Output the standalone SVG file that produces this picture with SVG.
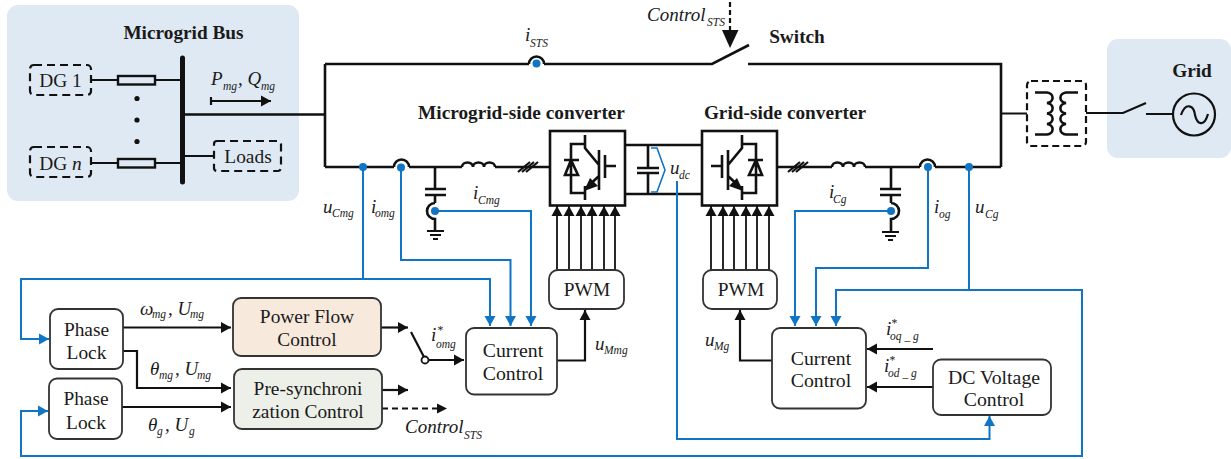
<svg xmlns="http://www.w3.org/2000/svg" xmlns:xlink="http://www.w3.org/1999/xlink" width="1231" height="459" viewBox="0 0 1231 459">
<style>
text{font-family:"Liberation Serif","Times New Roman",serif;fill:#1a1a1a}
.t{font-size:19.300px;font-weight:bold;text-anchor:middle}
.n{font-size:19.400px;text-anchor:middle}
.c{font-size:19.800px;text-anchor:middle}
.i{font-style:italic;font-size:19px}
.s{font-style:italic;font-size:11.500px}
.k,.k2,.b,.d{fill:none;stroke-linejoin:miter}
.k{stroke:#111;stroke-width:2.600}
.k2{stroke:#111;stroke-width:2.200}
.a{fill:none;stroke:#111;stroke-width:1.800}
.b{stroke:#0f75c4;stroke-width:2}
.d{stroke:#111;stroke-width:2.200;stroke-dasharray:8 5}
.box{fill:#fff;stroke:#333;stroke-width:1.800}
.hw{fill:#fff;stroke:#111;stroke-width:2.600}
.dot{fill:#0f75c4}
.kf{fill:#111}
</style>
<defs>
<marker id="ak" markerUnits="userSpaceOnUse" markerWidth="12" markerHeight="12" refX="10" refY="6" orient="auto"><path d="M0 0.5L10 6L0 11.500Z" fill="#111"/></marker>
<marker id="ab" markerUnits="userSpaceOnUse" markerWidth="12" markerHeight="12" refX="10" refY="6" orient="auto"><path d="M0 0.5L10 6L0 11.500Z" fill="#0f75c4"/></marker>
<g id="igbt">
<rect class="hw" x="550" y="131" width="75" height="74.500"/>
<path class="k" d="M585 135V148L599 165M599 150V190M605 155V178M605 166H616M585 186V200M585 144H571V193H585M564 160H579M565 175H578L571 160ZM571 175V193M599 176L585 189"/>
<path d="M584 191L590 178L598 186Z" class="kf"/>
</g>
<g id="gnd"><path class="k2" d="M0 0H17M3 4H14M6 8H11"/></g>
<g id="slash"><path class="k2" d="M0 10L12 0M4 10L16 0M8 10L20 0"/></g>
<g id="coil"><path class="k" d="M0 0a5.500 4.500 0 0 1 11 0a5.500 4.500 0 0 1 11 0a5.500 4.500 0 0 1 11 0"/></g>
</defs>

<g id="microgrid-panel"><rect x="7" y="5" width="292" height="196" rx="11" fill="#dfe9f3"/>
<text class="t" x="183.500" y="39">Microgrid Bus</text></g>
<g id="grid-panel"><rect x="1107" y="39" width="124" height="119" rx="11" fill="#dfe9f3"/>
<text class="t" x="1192" y="77">Grid</text></g>

<g id="connectors">
<path class="k" d="M184 114.500H325M325 64V167M325 64H529M529 64a7.500 7.500 0 0 1 15 0M544 64H712L749 45M748 64H1001V167M325 167H394M394 167a7.500 7.500 0 0 1 15 0M409 167H462M495 167H550M625 145H702M625 194H702M777 167H832M865 167H920M920 167a7.500 7.500 0 0 1 15 0M935 167H1001"/>
<path class="k2" d="M91 80H118M155 80H180M91 163H118M155 163H180M184 156H214M1001 113.500H1027M1086 113H1123L1146 103M1146 114H1173"/>
<path class="k2" marker-end="url(#ak)" d="M211 101H271"/>
<path class="k2" d="M211 97V105"/>
<path class="d" d="M730 2V30" style="stroke-dasharray:5 3"/>
<path d="M722 30H738.500L730 48Z" class="kf"/>
<path class="k" d="M648 145V168M648 173V194M637 168H659M637 173H659M435 167V189M425 189H446M425 195H446M435 195V203M435 203a8 8 0 0 0 0 16V231M891 167V189M880 189H901M880 195H901M891 195V203M891 203a8 8 0 0 1 0 16V231"/>
<use xlink:href="#gnd" href="#gnd" x="427" y="231"/>
<use xlink:href="#gnd" href="#gnd" x="882" y="232"/>
<use xlink:href="#slash" href="#slash" x="518" y="162"/>
<use xlink:href="#slash" href="#slash" x="788" y="162"/>
<use xlink:href="#coil" href="#coil" x="462" y="167"/>
<use xlink:href="#coil" href="#coil" x="832" y="167"/>
<path class="b" style="stroke-width:1.600" d="M651 148H657L665 170L657 192H651"/>
<path class="b" d="M363 167V279H21V339H49" marker-end="url(#ab)"/>
<path class="b" d="M363 279H490V326" marker-end="url(#ab)"/>
<path class="b" d="M401 167V260H510.500V326" marker-end="url(#ab)"/>
<path class="b" d="M435 211H531V326" marker-end="url(#ab)"/>
<path class="b" d="M677 181V439H989.500V416" marker-end="url(#ab)"/>
<path class="b" d="M891 211H795V326" marker-end="url(#ab)"/>
<path class="b" d="M928 167V268H816V326" marker-end="url(#ab)"/>
<path class="b" d="M969 167V290H836V326" marker-end="url(#ab)"/>
<path class="b" d="M969 290H1082V456H21V411H48" marker-end="url(#ab)"/>
<circle class="dot" cx="536.500" cy="63.500" r="4"/>
<circle class="dot" cx="363" cy="167" r="4"/>
<circle class="dot" cx="401" cy="167.500" r="4"/>
<circle class="dot" cx="435" cy="211" r="4"/>
<circle class="dot" cx="891" cy="211" r="4"/>
<circle class="dot" cx="928" cy="167" r="4"/>
<circle class="dot" cx="969" cy="167" r="4"/>
<g id="pwm-arrows">
<path class="a" marker-end="url(#ak)" d="M557 270V206"/><path class="a" marker-end="url(#ak)" d="M569 270V206"/><path class="a" marker-end="url(#ak)" d="M581 270V206"/><path class="a" marker-end="url(#ak)" d="M592 270V206"/><path class="a" marker-end="url(#ak)" d="M604 270V206"/><path class="a" marker-end="url(#ak)" d="M615 270V206"/>
<path class="a" marker-end="url(#ak)" d="M711 270V206"/><path class="a" marker-end="url(#ak)" d="M723 270V206"/><path class="a" marker-end="url(#ak)" d="M734 270V206"/><path class="a" marker-end="url(#ak)" d="M746 270V206"/><path class="a" marker-end="url(#ak)" d="M757 270V206"/><path class="a" marker-end="url(#ak)" d="M769 270V206"/>
</g>
<path class="k2" marker-end="url(#ak)" d="M123 327.500H231"/>
<path class="k2" marker-end="url(#ak)" d="M123 351H137V388H231"/>
<path class="k2" marker-end="url(#ak)" d="M122 407H231"/>
<path class="k2" marker-end="url(#ak)" d="M381 327.500H408"/>
<path class="k2" d="M411 332L424 357"/>
<path class="k2" marker-end="url(#ak)" d="M429 360H464"/>
<circle cx="425" cy="360" r="3.500" fill="#fff" stroke="#111" stroke-width="1.800"/>
<path class="k2" marker-end="url(#ak)" d="M382 390H408"/>
<path class="d" style="stroke-width:1.800;stroke-dasharray:6 4" d="M382 408.500H438"/>
<path class="kf" d="M437 403.500L447 408.500L437 413.500Z"/>
<path class="k2" marker-end="url(#ak)" d="M557 360.500H585V310"/>
<path class="k2" marker-end="url(#ak)" d="M772 360.500H740V310"/>
<path class="k2" marker-end="url(#ak)" d="M933 349H867"/>
<path class="k2" marker-end="url(#ak)" d="M933 387H867"/>
</g>

<g id="dg1"><rect class="d" x="30" y="65" width="61" height="30" rx="4"/><text class="n" x="60.500" y="87">DG 1</text></g>
<g id="dgn"><rect class="d" x="30" y="147" width="61" height="30" rx="4"/><text class="n" x="60.500" y="170">DG <tspan font-style="italic">n</tspan></text></g>
<g id="res1"><rect x="118" y="76" width="37" height="8.500" fill="none" stroke="#111" stroke-width="2.400"/></g>
<g id="resn"><rect x="118" y="159" width="37" height="8.500" fill="none" stroke="#111" stroke-width="2.400"/></g>
<g id="dots"><circle cx="137" cy="98.500" r="2.600" class="kf"/><circle cx="137" cy="120" r="2.600" class="kf"/><circle cx="137" cy="141.500" r="2.600" class="kf"/></g>
<g id="bus"><path d="M182.500 58V182" stroke="#111" stroke-width="5" stroke-linecap="round"/></g>
<g id="loads"><rect class="d" x="214" y="141" width="67" height="30" rx="3"/><text class="n" x="248" y="163">Loads</text></g>

<g id="conv1"><use xlink:href="#igbt" href="#igbt"/></g>
<g id="conv2"><use xlink:href="#igbt" href="#igbt" transform="translate(1327 0) scale(-1 1)"/></g>
<text class="t" x="521.500" y="119">Microgrid-side converter</text>
<text class="t" x="785" y="119">Grid-side converter</text>
<text class="t" x="797" y="43">Switch</text>

<g id="transformer"><rect class="d" style="stroke-dasharray:7 4" x="1027" y="81" width="59" height="65" rx="4"/>
<path class="k" d="M1035 92.500H1047a6.500 5.300 0 0 1 0 10.500a6.500 5.300 0 0 1 0 10.500a6.500 5.300 0 0 1 0 10.500a6.500 5.300 0 0 1 0 10.500H1035M1078 92.500H1066a6.500 5.300 0 0 0 0 10.500a6.500 5.300 0 0 0 0 10.500a6.500 5.300 0 0 0 0 10.500a6.500 5.300 0 0 0 0 10.500H1078"/></g>
<g id="source"><circle cx="1194" cy="114.500" r="21" fill="none" stroke="#111" stroke-width="2.200"/><path class="k2" d="M1181 115C1186 101 1194 106 1195 115C1197 124 1204 128 1208 114"/></g>

<g id="pwm1"><rect class="box" x="549" y="270" width="75" height="39" rx="9"/><text class="n" x="587" y="296">PWM</text></g>
<g id="pwm2"><rect class="box" x="703" y="270" width="74" height="39" rx="9"/><text class="n" x="741" y="296">PWM</text></g>
<g id="pll1"><rect class="box" x="50" y="309" width="73" height="60" rx="8"/><text class="n" x="86.500" y="336">Phase</text><text class="n" x="86.500" y="359">Lock</text></g>
<g id="pll2"><rect class="box" x="49" y="378.500" width="73" height="60.500" rx="8"/><text class="n" x="86" y="405">Phase</text><text class="n" x="86" y="429">Lock</text></g>
<g id="pfc"><rect x="233" y="298" width="148" height="58" rx="8" fill="#f8e9dd" stroke="#333" stroke-width="1.800"/><text class="n" x="307" y="323">Power Flow</text><text class="n" x="307" y="346">Control</text></g>
<g id="psc"><rect x="234" y="369" width="148" height="60" rx="8" fill="#edf0e8" stroke="#333" stroke-width="1.800"/><text class="n" x="308" y="395">Pre-synchroni</text><text class="n" x="308" y="418">zation Control</text></g>
<g id="cc1"><rect class="box" x="466" y="328" width="91" height="66.500" rx="8"/><text class="c" x="513" y="357">Current</text><text class="c" x="513" y="380">Control</text></g>
<g id="cc2"><rect class="box" x="772" y="328" width="94" height="80.500" rx="8"/><text class="c" x="821" y="365">Current</text><text class="c" x="821" y="387">Control</text></g>
<g id="dc"><rect class="box" x="933" y="359.500" width="118" height="55.500" rx="8"/><text class="c" x="994" y="384">DC Voltage</text><text class="c" x="994" y="406">Control</text></g>

<g id="labels">
<text class="i" x="211" y="85">P</text><text class="s" x="223" y="90">mg</text><text class="i" x="238" y="85">, Q</text><text class="s" x="261" y="90">mg</text>
<text class="i" x="647" y="21">Control</text><text class="s" x="707" y="26">STS</text>
<text class="i" x="525" y="41">i</text><text class="s" x="530" y="47">STS</text>
<text class="i" x="323" y="213">u</text><text class="s" x="332" y="217">Cmg</text>
<text class="i" x="371" y="213">i</text><text class="s" x="375" y="217">omg</text>
<text class="i" x="473" y="199">i</text><text class="s" x="478" y="204">Cmg</text>
<text class="i" x="670" y="174">u</text><text class="s" x="679" y="179">dc</text>
<text class="i" x="829" y="198">i</text><text class="s" x="833" y="203">Cg</text>
<text class="i" x="934" y="213">i</text><text class="s" x="939" y="218">og</text>
<text class="i" x="975" y="213">u</text><text class="s" x="985" y="218">Cg</text>
<text class="i" x="140" y="315">ω</text><text class="s" x="152" y="318">mg</text><text class="i" x="168" y="315">, U</text><text class="s" x="190" y="318">mg</text>
<text class="i" x="150" y="375">θ</text><text class="s" x="159" y="379">mg</text><text class="i" x="175" y="375">, U</text><text class="s" x="197" y="379">mg</text>
<text class="i" x="148" y="431">θ</text><text class="s" x="157" y="435">g</text><text class="i" x="165" y="431">, U</text><text class="s" x="189" y="435">g</text>
<text class="i" x="431" y="341">i</text><text class="s" x="437" y="334">*</text><text class="s" x="436" y="348">omg</text>
<text class="i" x="405" y="433">Control</text><text class="s" x="464" y="439">STS</text>
<text class="i" x="595" y="350">u</text><text class="s" x="604" y="354">Mmg</text>
<text class="i" x="705" y="346">u</text><text class="s" x="714" y="350">Mg</text>
<text class="i" x="886" y="335">i</text><text class="s" x="891" y="327">*</text><text class="s" x="890" y="340">oq _ g</text>
<text class="i" x="884" y="372">i</text><text class="s" x="889" y="364">*</text><text class="s" x="888" y="377">od _ g</text>
</g>
</svg>
